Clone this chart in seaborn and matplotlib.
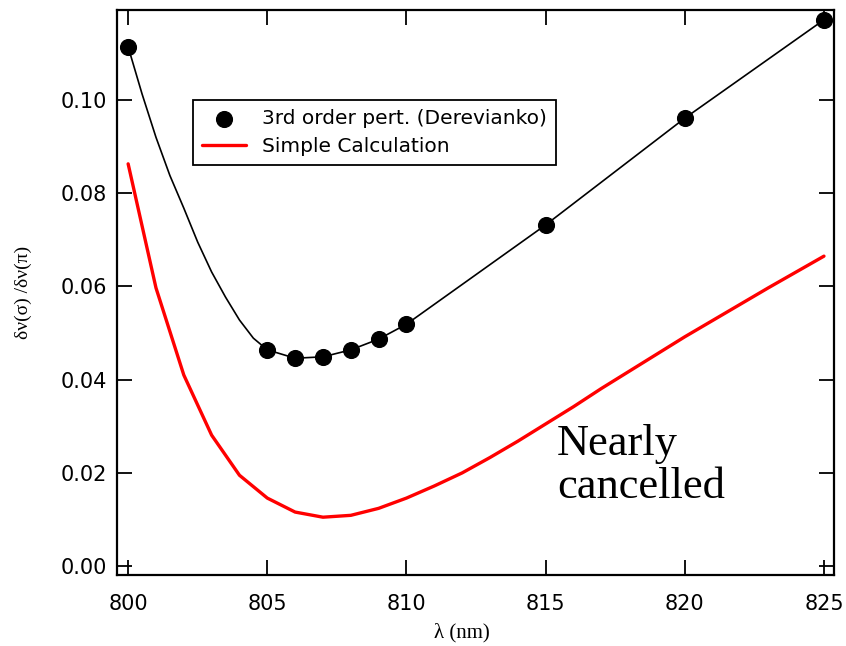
import matplotlib
matplotlib.use("Agg")
import matplotlib.pyplot as plt
import seaborn as sns
import pandas as pd

# Valores
lam_pert = [800, 805, 806, 807, 808, 809, 810, 815, 820, 825]
razao_pert = [0.1114, 0.0464, 0.0446, 0.0449, 0.0464, 0.0487, 0.0519, 0.0732, 0.0961, 0.1172]

# curva suave que passa pelos pontos
lam_curva = [800, 800.5, 801, 801.5, 802, 802.5, 803, 803.5, 804, 804.5, 805, 806, 807,
             808, 809, 810, 815, 820, 825]
razao_curva = [0.1114, 0.1013, 0.0920, 0.0838, 0.0768, 0.0695, 0.0631, 0.0577, 0.0528,
               0.0489, 0.0464, 0.0446, 0.0449, 0.0464, 0.0487, 0.0519, 0.0732, 0.0961, 0.1172]

lam_simples = list(range(800, 826))
razao_simples = [0.0863, 0.0597, 0.0410, 0.0281, 0.0195, 0.0146, 0.0116, 0.0105, 0.0109,
                 0.0124, 0.0146, 0.0172, 0.0200, 0.0233, 0.0268, 0.0305, 0.0342, 0.0381,
                 0.0418, 0.0455, 0.0492, 0.0527, 0.0562, 0.0597, 0.0631, 0.0665]

sns.set_style("ticks")
plt.rcParams["font.family"] = ["DejaVu Sans"]
plt.rcParams["text.color"] = "black"

fig = plt.figure(figsize=(8.46, 6.46), dpi=100)
ax = fig.add_axes([0.1383, 0.1099, 0.8475, 0.8746])

df_curva = pd.DataFrame({"lam": lam_curva, "r": razao_curva})
df_pert = pd.DataFrame({"lam": lam_pert, "r": razao_pert})
df_simples = pd.DataFrame({"lam": lam_simples, "r": razao_simples})

sns.lineplot(data=df_curva, x="lam", y="r", color="black", linewidth=1.2, ax=ax, legend=False)
sns.scatterplot(data=df_pert, x="lam", y="r", color="black", s=130, edgecolor="black",
                ax=ax, label="3rd order pert. (Derevianko)", zorder=5)
sns.lineplot(data=df_simples, x="lam", y="r", color="#ff0000", linewidth=2.4, ax=ax,
             label="Simple Calculation")

ax.set_xlim(799.6, 825.36)
ax.set_ylim(-0.0019, 0.1193)
ax.set_xticks([800, 805, 810, 815, 820, 825])
ax.set_yticks([0.00, 0.02, 0.04, 0.06, 0.08, 0.10])
ax.set_yticklabels(["0.00", "0.02", "0.04", "0.06", "0.08", "0.10"])

ax.tick_params(direction="in", length=11, width=1.3, top=True, right=True,
               labelsize=15, colors="black")
ax.tick_params(axis="x", pad=14)
ax.tick_params(axis="y", pad=7)
for s in ax.spines.values():
    s.set_linewidth(1.6)
    s.set_color("black")
    s.set_visible(True)

ax.set_xlabel("λ (nm)", family="Liberation Serif", fontsize=15, color="black")
ax.set_ylabel("δν(σ) /δν(π)", family="Liberation Serif", fontsize=14, color="black")
ax.xaxis.set_label_coords(0.481, -0.085)
ax.yaxis.set_label_coords(-0.118, 0.5)

leg = ax.legend(loc="upper left", bbox_to_anchor=(0.106, 0.841), fontsize=14.5,
                frameon=True, fancybox=False, borderpad=0.45, handlelength=2.2,
                labelspacing=0.45, handletextpad=0.8, borderaxespad=0)
leg.get_frame().set_edgecolor("black")
leg.get_frame().set_linewidth(1.3)
leg.get_frame().set_alpha(1)
for t in leg.get_texts():
    t.set_color("black")

ax.text(815.4, 0.0127, "Nearly\ncancelled", family="Liberation Serif", fontsize=32,
        ha="left", va="bottom", linespacing=1.1, color="black")

plt.savefig("out.png", dpi=100)
